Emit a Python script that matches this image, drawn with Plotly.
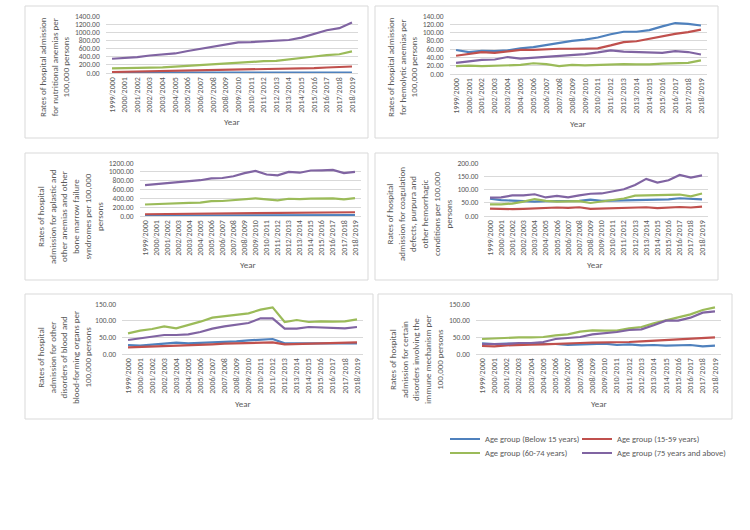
import plotly.graph_objects as go

W, H = 750, 530

years = ["1999/2000", "2000/2001", "2001/2002", "2002/2003", "2003/2004", "2004/2005",
         "2005/2006", "2006/2007", "2007/2008", "2008/2009", "2009/2010", "2010/2011",
         "2011/2012", "2012/2013", "2013/2014", "2014/2015", "2015/2016", "2016/2017",
         "2017/2018", "2018/2019"]

series_names = ["Age group (Below 15 years)", "Age group (15-59 years)",
                "Age group (60-74 years)", "Age group (75 years and above)"]
series_colors = ["#4F81BD", "#C0504D", "#9BBB59", "#8064A2"]

# Panel 1: nutritional anemias
nutritional_below15 = [8, 8, 7, 7, 7, 7, 7, 7, 7, 7, 7, 7, 7, 7, 7, 8, 8, 8, 8, 8]
nutritional_15_59 = [25, 30, 35, 40, 45, 50, 55, 60, 65, 70, 75, 80, 85, 90, 100, 110, 120, 135, 145, 160]
nutritional_60_74 = [115, 118, 122, 130, 140, 155, 175, 195, 220, 245, 265, 275, 290, 300, 330, 365, 405, 440, 460, 530]
nutritional_75plus = [350, 370, 390, 430, 455, 480, 540, 590, 640, 700, 750, 760, 780, 785, 810, 870, 960, 1050, 1100, 1240]

# Panel 2: hemolytic anemias
hemolytic_below15 = [58, 53, 56, 55, 57, 62, 65, 70, 75, 80, 83, 88, 96, 102, 102, 106, 115, 123, 121, 117]
hemolytic_15_59 = [44, 49, 53, 51, 54, 58, 58, 60, 61, 61, 62, 62, 69, 77, 79, 85, 92, 97, 101, 107]
hemolytic_60_74 = [19, 20, 19, 20, 20, 22, 26, 24, 19, 22, 21, 22, 22, 24, 23, 23, 25, 26, 27, 33]
hemolytic_75plus = [27, 31, 34, 35, 41, 37, 39, 42, 43, 46, 48, 52, 57, 54, 53, 52, 51, 55, 53, 47]

# Panel 3: aplastic and other anemias / bone marrow failure
aplastic_below15 = [10, 10, 12, 12, 12, 13, 14, 15, 15, 16, 16, 17, 17, 17, 18, 18, 19, 19, 19, 20]
aplastic_15_59 = [40, 42, 45, 50, 52, 55, 58, 60, 62, 65, 68, 68, 70, 72, 72, 75, 78, 80, 82, 85]
aplastic_60_74 = [260, 265, 285, 285, 295, 305, 335, 340, 365, 390, 400, 375, 355, 390, 380, 395, 405, 400, 375, 405]
aplastic_75plus = [700, 720, 750, 760, 780, 810, 850, 860, 900, 970, 1020, 940, 920, 1000, 980, 1030, 1035, 1045, 970, 1000]

# Panel 4: coagulation defects, purpura, other hemorrhagic conditions
coagulation_below15 = [65, 60, 58, 57, 54, 56, 56, 56, 57, 62, 57, 58, 59, 62, 62, 63, 63, 67, 66, 63]
coagulation_15_59 = [28, 26, 26, 27, 29, 30, 32, 31, 33, 27, 28, 29, 30, 32, 33, 30, 31, 34, 32, 35]
coagulation_60_74 = [44, 44, 47, 54, 64, 57, 54, 55, 56, 49, 55, 61, 66, 77, 78, 78, 79, 81, 74, 85]
coagulation_75plus = [69, 70, 78, 78, 82, 70, 76, 70, 78, 84, 85, 93, 101, 117, 140, 126, 135, 155, 145, 153]

# Panel 5: other disorders of blood and blood-forming organs
otherblood_below15 = [27, 25, 28, 31, 34, 32, 33, 34, 35, 38, 41, 43, 45, 32, 32, 33, 34, 32, 32, 32]
otherblood_15_59 = [20, 21, 23, 25, 25, 25, 28, 29, 31, 32, 33, 36, 35, 29, 30, 30, 31, 33, 35, 35]
otherblood_60_74 = [62, 70, 75, 83, 77, 86, 97, 109, 113, 117, 122, 133, 140, 96, 102, 96, 98, 97, 98, 104]
otherblood_75plus = [42, 47, 50, 57, 57, 59, 66, 76, 83, 88, 93, 107, 107, 76, 76, 81, 80, 78, 77, 81]

# Panel 6: disorders involving the immune mechanism
immune_below15 = [32, 30, 31, 31, 31, 31, 30, 27, 28, 29, 31, 27, 29, 26, 27, 25, 27, 27, 23, 25]
immune_15_59 = [24, 23, 26, 28, 28, 29, 31, 32, 33, 34, 34, 35, 36, 38, 40, 42, 44, 46, 49, 50]
immune_60_74 = [45, 47, 50, 50, 50, 51, 56, 59, 67, 71, 70, 70, 77, 81, 92, 101, 111, 119, 132, 140]
immune_75plus = [30, 29, 30, 33, 33, 36, 45, 48, 51, 59, 62, 66, 72, 74, 86, 100, 100, 109, 124, 128]

y_titles = [
    "Rates of hospital admission<br>for nutritional anemias per<br>100,000 persons",
    "Rates of hospital admission<br>for hemolytic anemias per<br>100,000 persons",
    "Rates of hospital<br>admission for aplastic and<br>other anemias and other<br>bone marrow failure<br>syndromes per 100,000<br>persons",
    "Rates of hospital<br>admission for coagulation<br>defects, purpura and<br>other hemorrhagic<br>conditions per 100,000<br>persons",
    "Rates of hospital<br>admission for other<br>disorders of blood and<br>blood-forming organs per<br>100,000 persons",
    "Rates of hospital<br>admission for certain<br>disorders involving the<br>immune mechanism per<br>100,000 persons",
]
y_max = [1400, 140, 1200, 200, 150, 150]
y_step = [200, 20, 200, 50, 50, 50]

panel_data = [
    [nutritional_below15, nutritional_15_59, nutritional_60_74, nutritional_75plus],
    [hemolytic_below15, hemolytic_15_59, hemolytic_60_74, hemolytic_75plus],
    [aplastic_below15, aplastic_15_59, aplastic_60_74, aplastic_75plus],
    [coagulation_below15, coagulation_15_59, coagulation_60_74, coagulation_75plus],
    [otherblood_below15, otherblood_15_59, otherblood_60_74, otherblood_75plus],
    [immune_below15, immune_15_59, immune_60_74, immune_75plus],
]

# layout geometry (pixels)
plot_x = [(105.7, 358.3), (449.6, 707.4), (139.5, 360.5), (484.4, 707.6), (122, 363), (475.9, 721.1)]
plot_y = [(16, 73), (16, 74), (163, 216), (163, 216), (304, 354), (304, 354)]
boxes = [(25, 6, 368, 138), (375, 6, 718, 138), (25, 153, 368, 280), (375, 153, 718, 280),
         (25, 294, 373, 419), (378, 294, 732, 419)]
ytitle_pos = [(54, 67), (402, 67), (70, 217), (419, 214), (64, 358), (416, 360)]
year_pos = [(232, 122), (578, 123), (248, 264), (595, 264), (243, 403), (599, 403)]
legend_pos = [(445, 439), (577, 439), (445, 453), (577, 453)]

FONT = "Carlito, Calibri, 'Liberation Sans Narrow', Lato, sans-serif"
GREY = "#595959"


def px(x):
    return x / W


def py(y):
    return 1 - y / H


fig = go.Figure()
layout = dict(
    width=W, height=H, margin=dict(l=0, r=0, t=0, b=0, autoexpand=False),
    paper_bgcolor="white", plot_bgcolor="white",
    font=dict(family=FONT, color=GREY, size=8),
    shapes=[], annotations=[],
)
legend_ids = ["legend", "legend2", "legend3", "legend4"]

for i in range(6):
    ax = "" if i == 0 else str(i + 1)
    for s in range(4):
        fig.add_trace(go.Scatter(
            x=years, y=panel_data[i][s], mode="lines",
            name=series_names[s],
            line=dict(color=series_colors[s], width=2.2),
            xaxis="x" + ax, yaxis="y" + ax,
            showlegend=(i == 0),
            legend=legend_ids[s],
        ))
    x0, x1 = plot_x[i]
    y0, y1 = plot_y[i]
    layout["xaxis" + ax] = dict(
        domain=[px(x0), px(x1)], anchor="y" + ax, type="category",
        range=[-0.5, 19.5], tickangle=-90, showgrid=False, zeroline=False,
        showline=True, linecolor="#D9D9D9", linewidth=1, ticks="",
        tickfont=dict(size=8, color=GREY, family=FONT), fixedrange=True,
    )
    layout["yaxis" + ax] = dict(
        domain=[py(y1), py(y0)], anchor="x" + ax, range=[0, y_max[i]],
        dtick=y_step[i], tick0=0, tickformat=".2f", showgrid=True,
        gridcolor="#D9D9D9", gridwidth=1, zeroline=False, showline=False,
        ticks="", ticklabelstandoff=5,
        tickfont=dict(size=7.5, color=GREY, family=FONT), fixedrange=True,
    )
    bx0, by0, bx1, by1 = boxes[i]
    layout["shapes"].append(dict(
        type="rect", xref="paper", yref="paper", x0=px(bx0), x1=px(bx1),
        y0=py(by1), y1=py(by0), line=dict(color="#D9D9D9", width=1), layer="below",
    ))
    tx, ty = ytitle_pos[i]
    layout["annotations"].append(dict(
        text=y_titles[i], xref="paper", yref="paper", x=px(tx), y=py(ty),
        xanchor="center", yanchor="middle", textangle=-90, showarrow=False,
        font=dict(size=9, color=GREY, family=FONT), align="center",
    ))
    yx, yy = year_pos[i]
    layout["annotations"].append(dict(
        text="Year", xref="paper", yref="paper", x=px(yx), y=py(yy),
        xanchor="center", yanchor="middle", showarrow=False,
        font=dict(size=9, color=GREY, family=FONT),
    ))

for k, lid in enumerate(legend_ids):
    lx, ly = legend_pos[k]
    layout[lid] = dict(
        orientation="h", xanchor="left", yanchor="middle",
        x=px(lx), y=py(ly),
        font=dict(size=8.5, color=GREY, family=FONT),
        bgcolor="rgba(0,0,0,0)", itemwidth=30,
    )

fig.update_layout(**layout)
fig.write_html("out.html", post_script="document.body.style.margin='0px';",
               config={"displayModeBar": False})
